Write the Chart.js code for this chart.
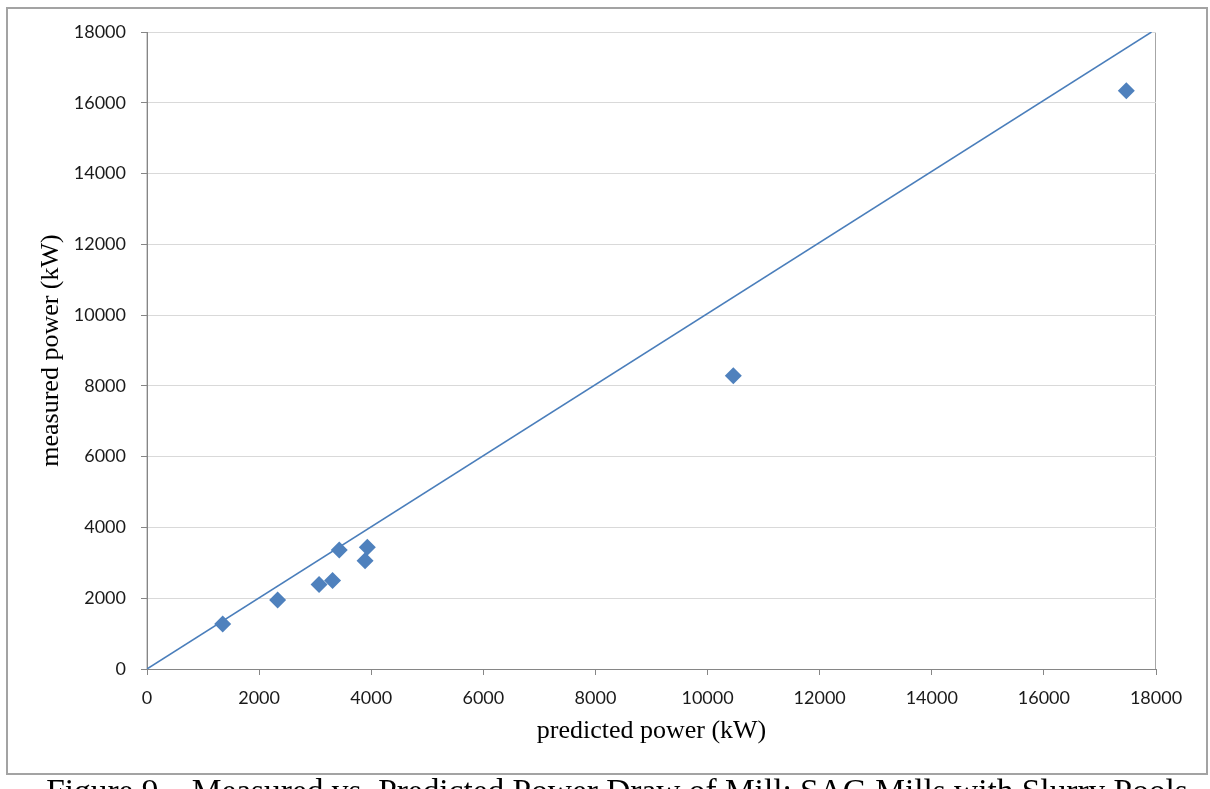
<!DOCTYPE html>
<html lang="en">
<head>
  <meta charset="UTF-8">
  <title>Measured vs Predicted Power Draw</title>
  <script src="https://cdn.jsdelivr.net/npm/chart.js@4.4.0/dist/chart.umd.min.js"></script>
  <style>
    html, body { margin: 0; padding: 0; background: #fff; overflow: hidden; }
    body { width: 1210px; height: 789px; position: relative; }
    #chart { position: absolute; left: 0; top: 0; }
    .caption {
      position: absolute; left: 0; top: 774px; width: 1234px;
      text-align: center; font-family: "Liberation Serif", "Times New Roman", serif;
      font-size: 33.4px; line-height: 33px; color: #000; white-space: nowrap;
    }
  </style>
</head>
<body>
  <canvas id="chart" width="1210" height="789"></canvas>
  <div class="caption">Figure 9 – Measured vs. Predicted Power Draw of Mill: SAG Mills with Slurry Pools</div>
  <script>
    // mill data (kW)
    const predictedKW = [1350, 2330, 3070, 3310, 3430, 3930, 3890, 10460, 17470];
    const measuredKW = [1270, 1950, 2390, 2500, 3360, 3440, 3060, 8290, 16340];

    // 1:1 parity line
    const parityX = [0, 17920];
    const parityY = [0, 18000];

    const axisMin = 0;
    const axisMax = 18000;
    const axisStep = 2000;

    const points = predictedKW.map((x, i) => ({ x: x, y: measuredKW[i] }));
    const parity = parityX.map((x, i) => ({ x: x, y: parityY[i] }));

    // outer frame + plot area border
    const framePlugin = {
      id: 'frame',
      beforeDraw(chart) {
        const ctx = chart.ctx;
        const a = chart.chartArea;
        ctx.save();
        ctx.strokeStyle = '#a3a3a3';
        ctx.lineWidth = 2;
        ctx.strokeRect(7, 8, 1200, 766);
        ctx.lineWidth = 1;
        ctx.strokeStyle = '#a6a6a6';
        ctx.strokeRect(a.left, a.top + 0.5, a.right - a.left - 0.5, a.bottom - a.top);
        ctx.restore();
      }
    };

    const tickFont = { family: 'Lato, "Open Sans", sans-serif', size: 18 };
    const titleFont = { family: '"Liberation Serif", "Times New Roman", serif', size: 26 };
    const plainTick = (v) => String(v);

    new Chart(document.getElementById('chart'), {
      type: 'scatter',
      data: {
        datasets: [
          {
            label: 'parity',
            data: parity,
            showLine: true,
            borderColor: '#4a7ebb',
            borderWidth: 1.5,
            pointRadius: 0,
            order: 2
          },
          {
            label: 'mills',
            data: points,
            pointStyle: 'rectRot',
            pointRadius: 8.5,
            pointBackgroundColor: '#4f81bd',
            pointBorderColor: '#4f81bd',
            pointBorderWidth: 0,
            order: 1
          }
        ]
      },
      options: {
        responsive: false,
        animation: false,
        devicePixelRatio: 1,
        layout: { padding: { left: 0, top: 32, right: 54, bottom: 0 } },
        plugins: { legend: { display: false }, tooltip: { enabled: false } },
        scales: {
          x: {
            type: 'linear',
            min: axisMin,
            max: axisMax,
            afterFit: (s) => { s.height = 120; },
            ticks: { stepSize: axisStep, font: tickFont, color: '#1a1a1a', padding: 12, maxRotation: 0, callback: plainTick },
            grid: { drawOnChartArea: false, drawTicks: true, tickLength: 6, color: '#868686' },
            border: { color: '#868686', width: 1 },
            title: { display: true, text: 'predicted power (kW)', font: titleFont, color: '#000', padding: { bottom: 42 } }
          },
          y: {
            type: 'linear',
            min: axisMin,
            max: axisMax,
            afterFit: (s) => { s.width = 147; },
            ticks: { stepSize: axisStep, font: tickFont, color: '#1a1a1a', padding: 15, callback: plainTick },
            grid: { color: '#d9d9d9', tickColor: '#868686', tickLength: 6, lineWidth: 1 },
            border: { color: '#868686', width: 1 },
            title: { display: true, text: 'measured power (kW)', font: titleFont, color: '#000', padding: { top: 36 } }
          }
        }
      },
      plugins: [framePlugin]
    });
  </script>
</body>
</html>
